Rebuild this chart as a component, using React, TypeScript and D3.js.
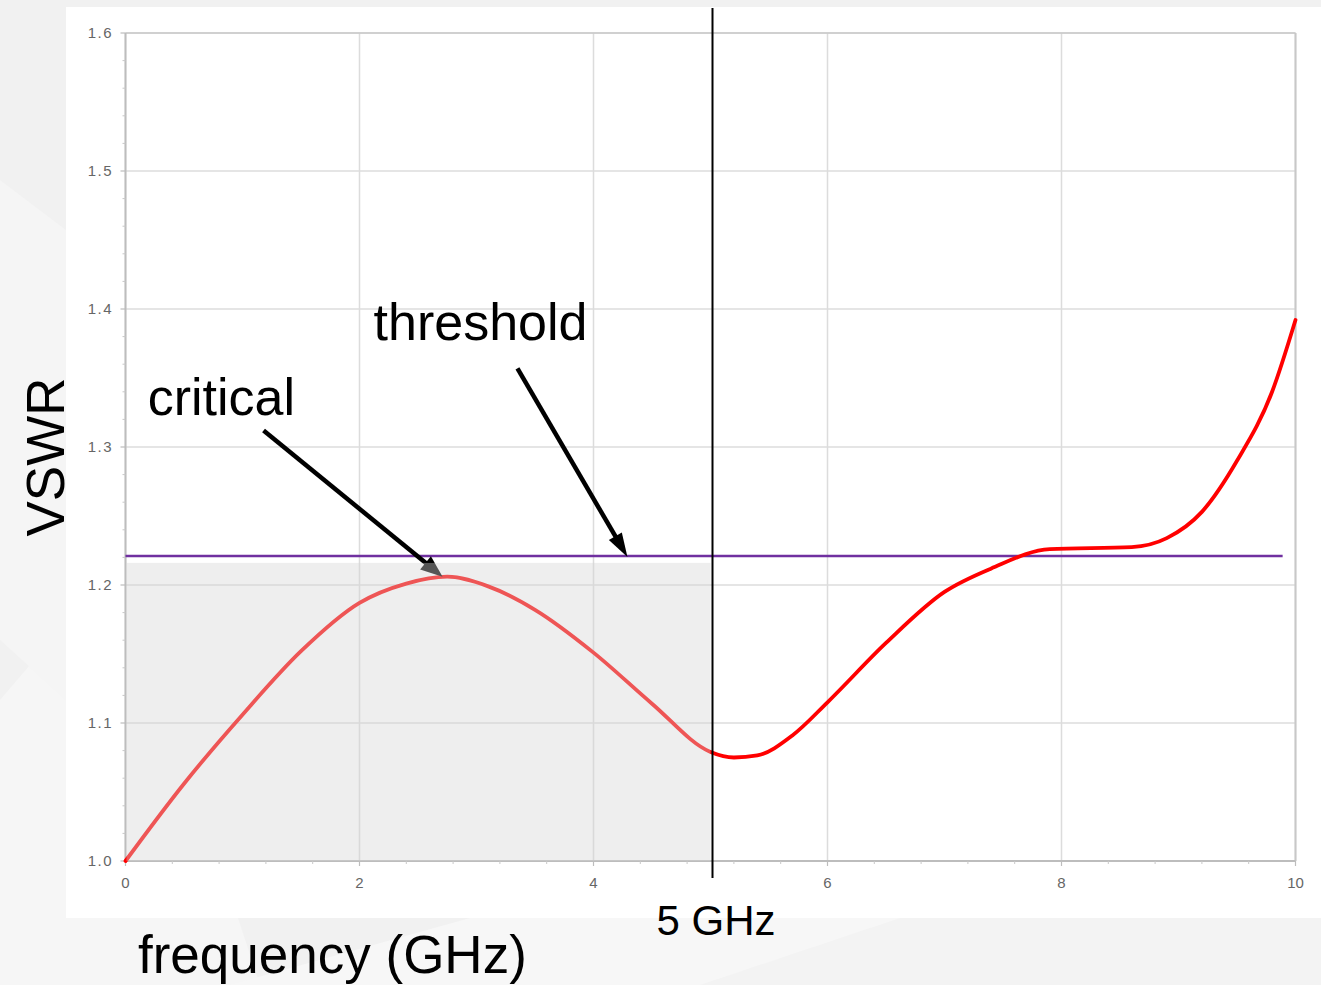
import React from "react";
import * as d3 from "d3";

const freq = [0, 0.5, 1.0, 1.5, 2.0, 2.4, 2.75, 3.1, 3.5, 4.0, 4.5, 5.0, 5.2, 5.4, 5.7, 6.0, 6.5, 7.0, 7.4, 7.9, 8.6, 8.9, 9.2, 9.5, 9.8, 10.0];
const vswr = [1.0, 1.056, 1.106, 1.152, 1.187, 1.201, 1.206, 1.199, 1.182, 1.151, 1.114, 1.079, 1.075, 1.0765, 1.091, 1.115, 1.158, 1.195, 1.212, 1.226, 1.2275, 1.234, 1.253, 1.29, 1.34, 1.392];

const xTicks = [0, 2, 4, 6, 8, 10];
const yTicks = [1.0, 1.1, 1.2, 1.3, 1.4, 1.5, 1.6];
const thresholdValue = 1.221;
const thresholdEnd = 9.89;
const criticalZoneTop = 1.216;
const markerFreq = 5;

// annotations in data units: [x1, y1, x2, y2]
const criticalArrow = [1.18, 1.312, 2.71, 1.206];
const thresholdArrow = [3.35, 1.357, 4.29, 1.2203];
const criticalLabel = [0.19, 1.323];
const thresholdLabel = [2.12, 1.3775];

const W = 1321;
const H = 985;
const FONT = "'Liberation Sans', Arial, sans-serif";

export default function App() {
  const x = d3.scaleLinear().domain([0, 10]).range([125.5, 1295.5]);
  const y = d3.scaleLinear().domain([1.0, 1.6]).range([861, 33]);

  const line = d3
    .line<number>()
    .x((_, i) => x(freq[i]))
    .y((d) => y(d))
    .curve(d3.curveMonotoneX);

  const xMinor = d3.range(0, 10.001, 0.4).filter((v) => Math.abs(v / 2 - Math.round(v / 2)) > 0.01);
  const yMinor = d3.range(1.0, 1.6001, 0.02).filter((v) => Math.abs(v * 10 - Math.round(v * 10)) > 0.01);

  const arrow = (a: number[], headLen: number, headW: number, color: string, key: string) => {
    const x1 = x(a[0]), y1 = y(a[1]), x2 = x(a[2]), y2 = y(a[3]);
    const ang = Math.atan2(y2 - y1, x2 - x1);
    const bx = x2 - headLen * Math.cos(ang);
    const by = y2 - headLen * Math.sin(ang);
    const px = -Math.sin(ang) * headW / 2;
    const py = Math.cos(ang) * headW / 2;
    return (
      <g key={key}>
        <line x1={x1} y1={y1} x2={bx + 2 * Math.cos(ang)} y2={by + 2 * Math.sin(ang)} stroke={color} strokeWidth={4.5} />
        <polygon points={`${x2},${y2} ${bx + px},${by + py} ${bx - px},${by - py}`} fill={color} />
      </g>
    );
  };

  return (
    <svg width={W} height={H} style={{ position: "absolute", left: 0, top: 0, display: "block" }}>
      {/* page background */}
      <rect x={0} y={0} width={W} height={H} fill="#f1f1f1" />
      <polygon points="0,700 120,560 260,985 0,985" fill="#f6f6f6" />
      <polygon points="0,180 66,230 66,700 0,640" fill="#f5f5f5" />
      <polygon points="230,985 470,918 1321,918 1321,985" fill="#f7f7f7" />
      <polygon points="700,985 900,918 1321,918 1321,985" fill="#f3f3f3" />
      {/* white panel */}
      <rect x={66} y={7} width={W - 66} height={911} fill="#ffffff" />

      {/* grid */}
      {xTicks.map((t) => (
        <line key={"gx" + t} x1={x(t)} x2={x(t)} y1={y(1.6)} y2={y(1.0)} stroke="#dcdcdc" strokeWidth={1.5} />
      ))}
      {yTicks.map((t) => (
        <line key={"gy" + t} x1={x(0)} x2={x(10)} y1={y(t)} y2={y(t)} stroke="#dcdcdc" strokeWidth={1.5} />
      ))}
      {/* frame */}
      <line x1={x(0)} x2={x(10)} y1={y(1.6)} y2={y(1.6)} stroke="#c8c8c8" strokeWidth={1.5} />
      <line x1={x(10)} x2={x(10)} y1={y(1.6)} y2={y(1.0)} stroke="#c8c8c8" strokeWidth={2} />
      <line x1={x(0)} x2={x(0)} y1={y(1.6)} y2={y(1.0)} stroke="#bdbdbd" strokeWidth={2} />
      <line x1={x(0)} x2={x(10)} y1={y(1.0)} y2={y(1.0)} stroke="#bdbdbd" strokeWidth={2} />

      {/* ticks */}
      {yTicks.map((t) => (
        <line key={"ty" + t} x1={x(0) - 5} x2={x(0)} y1={y(t)} y2={y(t)} stroke="#bdbdbd" strokeWidth={1.2} />
      ))}
      {yMinor.map((t, i) => (
        <line key={"tym" + i} x1={x(0) - 3} x2={x(0)} y1={y(t)} y2={y(t)} stroke="#c8c8c8" strokeWidth={1} />
      ))}
      {xTicks.map((t) => (
        <line key={"tx" + t} x1={x(t)} x2={x(t)} y1={y(1.0)} y2={y(1.0) + 5} stroke="#bdbdbd" strokeWidth={1.2} />
      ))}
      {xMinor.map((t, i) => (
        <line key={"txm" + i} x1={x(t)} x2={x(t)} y1={y(1.0)} y2={y(1.0) + 3} stroke="#c8c8c8" strokeWidth={1} />
      ))}

      {/* tick labels */}
      {yTicks.map((t) => (
        <text key={"ly" + t} x={113} y={y(t) + 5} textAnchor="end" fontFamily={FONT} fontSize={15} letterSpacing={1.5} fill="#666">
          {t.toFixed(1)}
        </text>
      ))}
      {xTicks.map((t) => (
        <text key={"lx" + t} x={x(t)} y={888} textAnchor="middle" fontFamily={FONT} fontSize={15} fill="#666">
          {t}
        </text>
      ))}

      {/* threshold line */}
      <line x1={x(0)} x2={x(thresholdEnd)} y1={y(thresholdValue)} y2={y(thresholdValue)} stroke="#7030a0" strokeWidth={2.5} />

      {/* VSWR curve */}
      <path d={line(vswr) || ""} fill="none" stroke="#ff0000" strokeWidth={3.8} strokeLinejoin="round" strokeLinecap="round" />

      {/* annotation arrows */}
      {arrow(criticalArrow, 22, 17, "#000", "ca")}
      {arrow(thresholdArrow, 24, 15, "#000", "ta")}

      {/* critical zone overlay */}
      <rect
        x={x(0) + 1}
        y={y(criticalZoneTop)}
        width={x(markerFreq) - x(0) - 1}
        height={y(1.0) - y(criticalZoneTop)}
        fill="rgb(212,212,212)"
        fillOpacity={0.4}
      />

      {/* 5 GHz marker */}
      <line x1={x(markerFreq) + 2} x2={x(markerFreq) + 2} y1={8} y2={878} stroke="#000" strokeWidth={2} />

      {/* labels */}
      <text x={x(criticalLabel[0])} y={y(criticalLabel[1])} fontFamily={FONT} fontSize={52} fill="#000">
        critical
      </text>
      <text x={x(thresholdLabel[0])} y={y(thresholdLabel[1])} fontFamily={FONT} fontSize={52} fill="#000">
        threshold
      </text>
      <text x={716} y={935} textAnchor="middle" fontFamily={FONT} fontSize={42} fill="#000">
        5 GHz
      </text>
      <text x={138} y={973} fontFamily={FONT} fontSize={53} fill="#000">
        frequency (GHz)
      </text>
      <text transform="translate(64,457) rotate(-90)" textAnchor="middle" fontFamily={FONT} fontSize={53} fill="#000">
        VSWR
      </text>
    </svg>
  );
}
